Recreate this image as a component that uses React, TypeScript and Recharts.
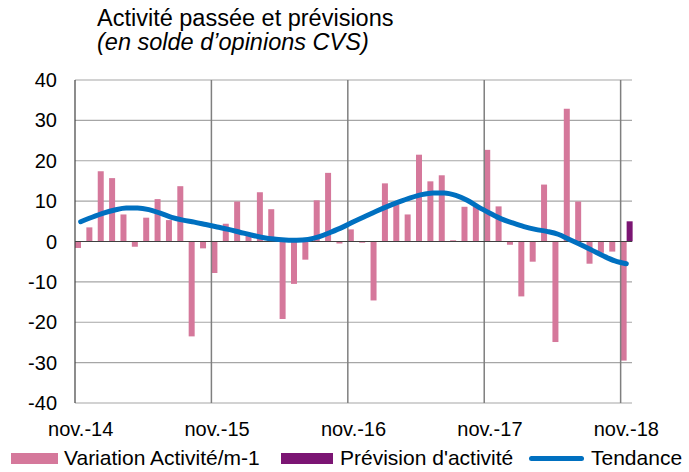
import { ComposedChart, Bar, Line, XAxis, YAxis, CartesianGrid, ReferenceLine } from 'recharts';

// Mois (nov.-14 -> nov.-18)
const months = [
  'nov.-14', 'déc.-14', 'janv.-15', 'févr.-15', 'mars-15', 'avr.-15', 'mai-15', 'juin-15', 'juil.-15', 'août-15', 'sept.-15', 'oct.-15',
  'nov.-15', 'déc.-15', 'janv.-16', 'févr.-16', 'mars-16', 'avr.-16', 'mai-16', 'juin-16', 'juil.-16', 'août-16', 'sept.-16', 'oct.-16',
  'nov.-16', 'déc.-16', 'janv.-17', 'févr.-17', 'mars-17', 'avr.-17', 'mai-17', 'juin-17', 'juil.-17', 'août-17', 'sept.-17', 'oct.-17',
  'nov.-17', 'déc.-17', 'janv.-18', 'févr.-18', 'mars-18', 'avr.-18', 'mai-18', 'juin-18', 'juil.-18', 'août-18', 'sept.-18', 'oct.-18',
  'nov.-18',
];

// Variation Activité/m-1
const variation = [
  -1.6, 3.5, 17.4, 15.7, 6.7, -1.3, 5.9, 10.5, 5.3, 13.7, -23.5, -1.7,
  -7.8, 4.4, 9.9, 2.0, 12.2, 8.0, -19.2, -10.5, -4.5, 10.2, 17.0, -0.5,
  3.0, -0.3, -14.6, 14.4, 9.2, 6.7, 21.5, 14.9, 16.4, 0.3, 8.6, 8.7,
  22.7, 8.7, -0.8, -13.6, -5.0, 14.1, -24.9, 32.9, 9.9, -5.5, -2.8, -2.5,
  -29.5,
];

// Prévision d'activité (seulement le dernier mois)
const prevision: (number | null)[] = [
  null, null, null, null, null, null, null, null, null, null, null, null,
  null, null, null, null, null, null, null, null, null, null, null, null,
  null, null, null, null, null, null, null, null, null, null, null, null,
  null, null, null, null, null, null, null, null, null, null, null, null,
  5.0,
];

// Tendance
const tendance = [
  4.9, 6.0, 7.0, 7.8, 8.3, 8.3, 7.9, 7.0, 6.0, 5.3, 4.8, 4.2,
  3.6, 3.0, 2.3, 1.6, 1.0, 0.6, 0.4, 0.3, 0.5, 1.2, 2.3, 3.5,
  4.9, 6.2, 7.5, 8.7, 9.8, 10.8, 11.6, 12.0, 12.0, 11.4, 10.2, 8.5,
  7.0, 5.6, 4.6, 3.7, 3.0, 2.5, 1.8, 0.5, -0.8, -2.2, -3.6, -4.8,
  -5.5,
];

const yTicks = [-40, -30, -20, -10, 0, 10, 20, 30, 40];
const yearStarts = [12, 24, 36, 48];

const PINK = '#D5789B';
const PURPLE = '#7B1573';
const BLUE = '#0070C0';

const data = months.map((m, i) => ({
  month: m,
  idx: i,
  variation: variation[i],
  prevision: prevision[i],
  tendance: tendance[i],
}));

const font = '"Liberation Sans", Arial, sans-serif';

export default function App() {
  return (
    <div style={{ position: 'absolute', left: 0, top: 0, width: 689, height: 472, fontFamily: font, background: '#fff' }}>
      <div style={{ position: 'absolute', left: 97, top: 5, fontSize: 23.5, lineHeight: '26px', color: '#000', whiteSpace: 'nowrap' }}>
        Activité passée et prévisions
      </div>
      <div style={{ position: 'absolute', left: 97, top: 29, fontSize: 23.5, lineHeight: '26px', fontStyle: 'italic', color: '#000', whiteSpace: 'nowrap' }}>
        (en solde d’opinions CVS)
      </div>

      <ComposedChart
        width={689}
        height={472}
        data={data}
        margin={{ top: 80, right: 57, left: 0, bottom: 39 }}
        barCategoryGap={0}
        barGap={0}
        style={{ fontFamily: font }}
      >
        <CartesianGrid vertical={false} stroke="#A6A6A6" strokeWidth={1.2} />
        <XAxis
          dataKey="month"
          interval={11}
          height={30}
          axisLine={false}
          tickLine={false}
          tickSize={0}
          tickMargin={19}
          tick={{ fontSize: 20, fill: '#000' }}
        />
        <XAxis xAxisId="num" type="number" dataKey="idx" domain={[0, 49]} hide />
        <YAxis
          domain={[-40, 40]}
          ticks={yTicks}
          width={75}
          interval={0}
          axisLine={{ stroke: '#404040', strokeWidth: 1.2 }}
          tickLine={false}
          tickSize={0}
          tickMargin={18}
          tick={{ fontSize: 20, fill: '#000' }}
        />
        {yearStarts.map((x) => (
          <ReferenceLine key={x} xAxisId="num" x={x} stroke="#7F7F7F" strokeWidth={1.5} />
        ))}
        <ReferenceLine y={0} stroke="#404040" strokeWidth={1.2} />
        <Bar dataKey="variation" fill={PINK} isAnimationActive={false} />
        <Bar dataKey="prevision" fill={PURPLE} isAnimationActive={false} />
        <Line
          type="monotone"
          dataKey="tendance"
          stroke={BLUE}
          strokeWidth={5}
          strokeLinecap="round"
          dot={false}
          activeDot={false}
          isAnimationActive={false}
        />
      </ComposedChart>

      <div style={{ position: 'absolute', top: 447, left: 0, width: 689, height: 22, fontSize: 21, color: '#000' }}>
        <div style={{ position: 'absolute', left: 11, top: 0, height: 22, display: 'flex', alignItems: 'center', whiteSpace: 'nowrap' }}>
          <span style={{ display: 'inline-block', width: 47, height: 11, background: PINK, marginRight: 6 }} />
          Variation Activité/m-1
        </div>
        <div style={{ position: 'absolute', left: 281, top: 0, height: 22, display: 'flex', alignItems: 'center', whiteSpace: 'nowrap' }}>
          <span style={{ display: 'inline-block', width: 52, height: 11, background: PURPLE, marginRight: 7 }} />
          Prévision d'activité
        </div>
        <div style={{ position: 'absolute', left: 529, top: 0, height: 22, display: 'flex', alignItems: 'center', whiteSpace: 'nowrap' }}>
          <span style={{ display: 'inline-block', width: 55, height: 5, borderRadius: 3, background: BLUE, marginRight: 7 }} />
          Tendance
        </div>
      </div>
    </div>
  );
}
